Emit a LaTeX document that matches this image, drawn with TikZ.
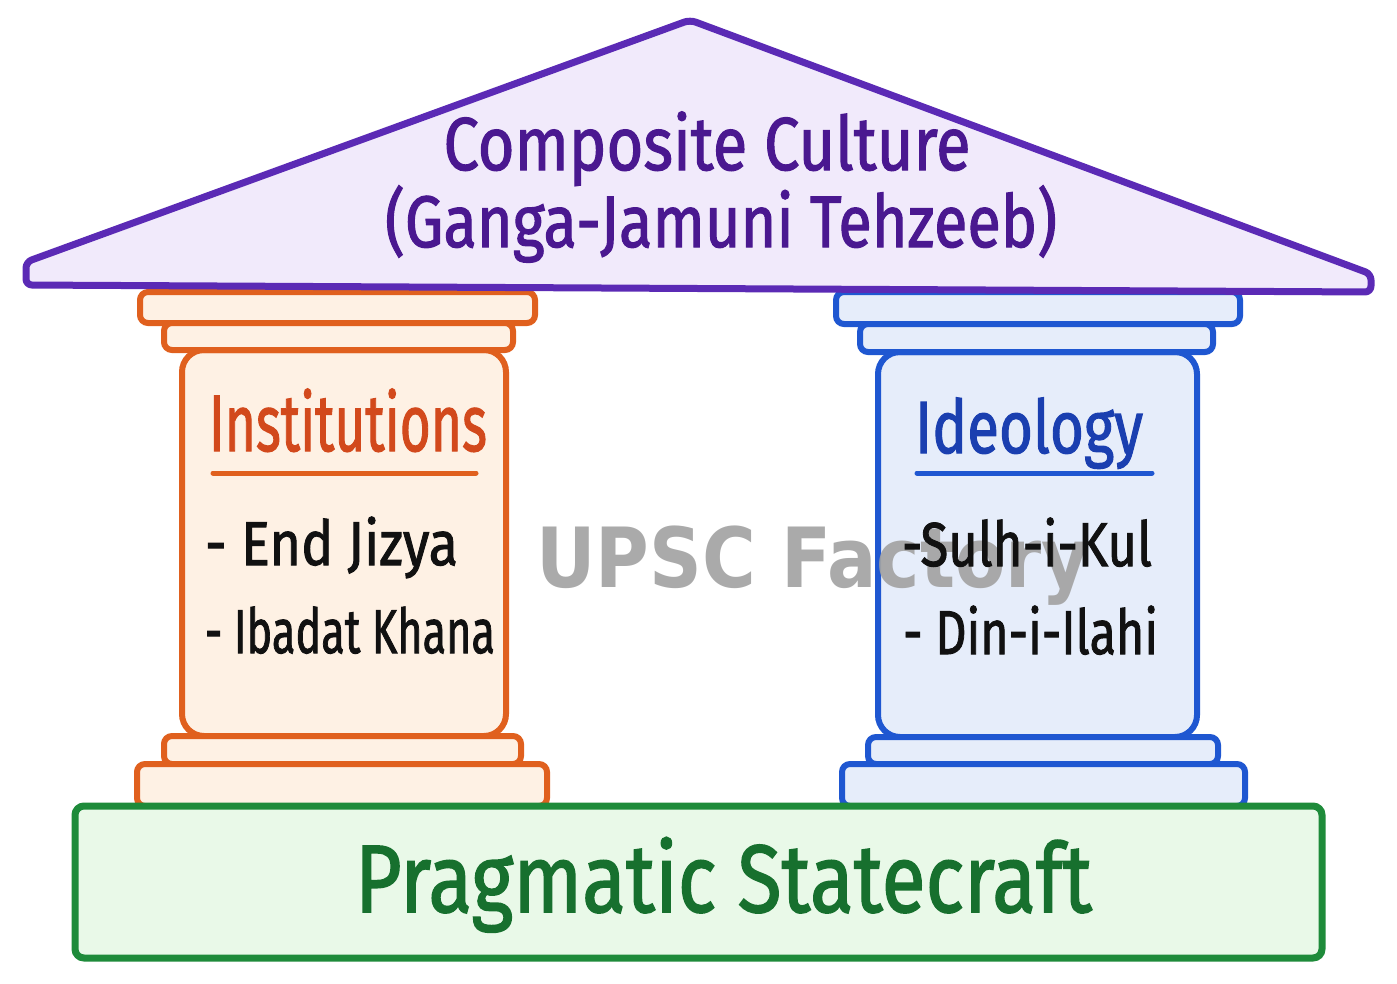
\documentclass[tikz,border=0pt]{standalone}
\usepackage{fontspec}
\usepackage{graphicx}
\setmainfont{Fira Sans}
\newfontfamily\hand{Fira Sans}[FakeBold=1.6]
\newfontfamily\wmfont{DejaVu Sans}[BoldFont={* Bold}]
\definecolor{roofline}{HTML}{5B2AB5}
\definecolor{rooffill}{HTML}{F1EAFB}
\definecolor{rooftext}{HTML}{4A1890}
\definecolor{orline}{HTML}{E0601E}
\definecolor{orfill}{HTML}{FEF1E4}
\definecolor{ortext}{HTML}{D2491C}
\definecolor{blline}{HTML}{1F57D1}
\definecolor{blfill}{HTML}{E6EDFA}
\definecolor{bltext}{HTML}{1A3FB0}
\definecolor{grline}{HTML}{1E8B3A}
\definecolor{grfill}{HTML}{E9F9E8}
\definecolor{grtext}{HTML}{17702E}
\definecolor{inktext}{HTML}{111111}
\definecolor{wmgray}{HTML}{A3A3A3}
\newcommand\hw[3]{\resizebox{#1pt}{\height}{\hand\fontsize{#2}{#2}\selectfont #3}}
\begin{document}
\begin{tikzpicture}[x=1pt,y=-1pt,
  roof/.style={draw=roofline,fill=rooffill,line width=7pt,rounded corners=6pt,line join=round},
  orpart/.style={draw=orline,fill=orfill,line width=6pt,rounded corners=8pt},
  blpart/.style={draw=blline,fill=blfill,line width=6pt,rounded corners=8pt},
  basebox/.style={draw=grline,fill=grfill,line width=7pt,rounded corners=9pt},
  txt/.style={anchor=base,inner sep=0pt},
  uline/.style={line width=5pt,line cap=round}]
\useasboundingbox (0,0) rectangle (1397,983);
% left pillar
\draw[orpart,rounded corners=22pt] (182,350) rectangle (506,736);
\draw[orpart] (140,292) rectangle (535,323);
\draw[orpart] (164,323) rectangle (513,350);
\draw[orpart] (164,736) rectangle (521,764);
\draw[orpart] (137,764) rectangle (547,806);
% right pillar
\draw[blpart,rounded corners=22pt] (878,352) rectangle (1197,737);
\draw[blpart] (836,292) rectangle (1240,324);
\draw[blpart] (860,324) rectangle (1213,352);
\draw[blpart] (868,737) rectangle (1218,764);
\draw[blpart] (842,764) rectangle (1245,806);
% roof
\draw[roof] (690,20) -- (1371,274) -- (1371,292) -- (26,285) -- (26,262) -- cycle;
% base
\draw[basebox] (75,806) rectangle (1322,958);
% watermark
\node[txt,text=wmgray,text opacity=0.92] (wm) at (813,587) {\resizebox{553pt}{\height}{\wmfont\bfseries\fontsize{83}{83}\selectfont UPSC Factory}};
% roof text
\node[txt,text=rooftext] (roof1) at (707,170) {\hw{527}{75}{Composite Culture}};
\node[txt,text=rooftext] (roof2) at (721,247) {\hw{672}{73}{(Ganga-Jamuni Tehzeeb)}};
% left pillar text
\node[txt,text=ortext] (inst) at (348,451) {\hw{278}{80}{Institutions}};
\draw[orline,uline] (213,473) -- (476,473);
\node[txt,text=inktext] (jizya) at (331.5,565) {\hw{253}{62}{- End Jizya}};
\node[txt,text=inktext] (ibadat) at (350,653) {\hw{290}{62}{- Ibadat Khana}};
% right pillar text
\node[txt,text=bltext] (ideo) at (1029,453) {\hw{228}{74}{Ideology}};
\draw[blline,uline] (917,473) -- (1152,473);
\node[txt,text=inktext] (sulh) at (1027,566) {\hw{250}{62}{-Sulh-i-Kul}};
\node[txt,text=inktext] (din) at (1030.5,654) {\hw{255}{62}{- Din-i-Ilahi}};
% base text
\node[txt,text=grtext] (prag) at (723.5,912) {\hw{737}{96}{Pragmatic Statecraft}};
\end{tikzpicture}
\end{document}
